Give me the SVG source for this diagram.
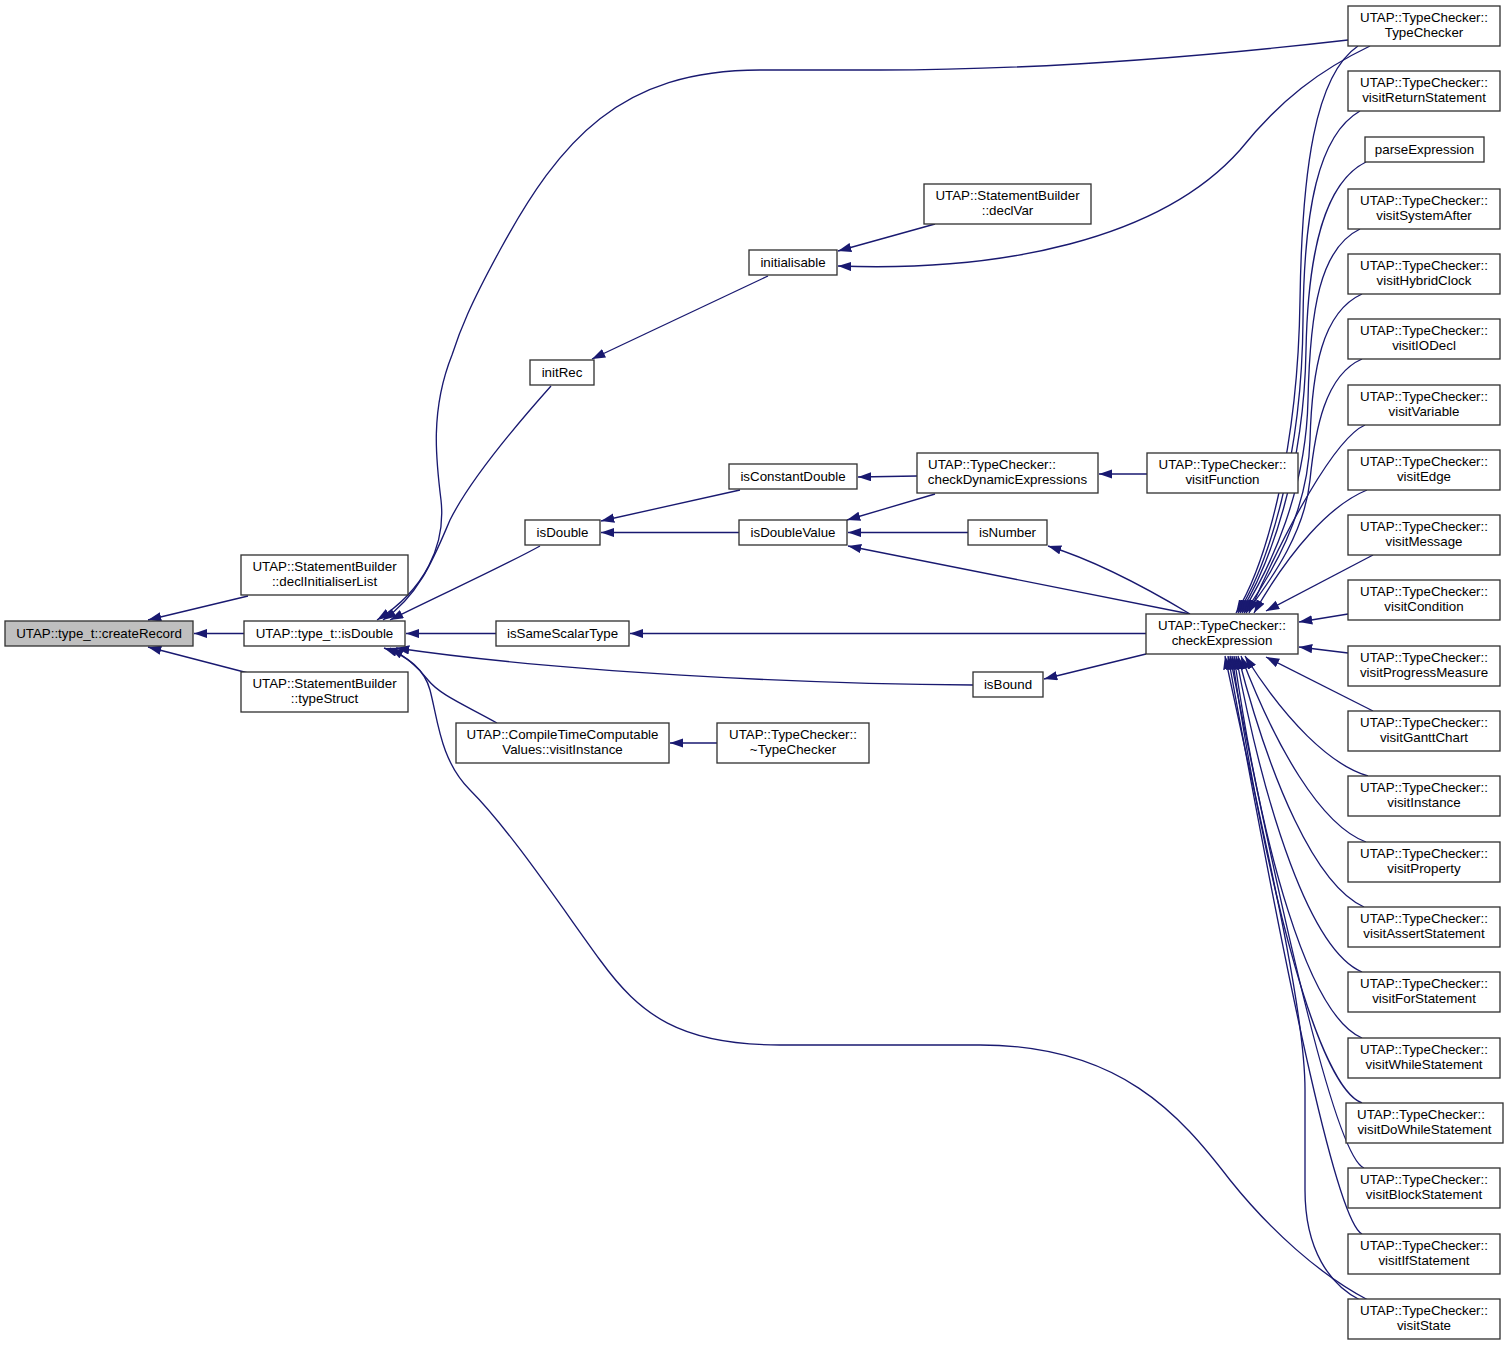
<svg xmlns="http://www.w3.org/2000/svg" width="1508" height="1345" viewBox="0 0 1508 1345">
<defs>
<marker id="ah" markerUnits="userSpaceOnUse" markerWidth="14" markerHeight="10" refX="13.3" refY="4.67" orient="auto">
<path d="M0,0 L13.3,4.67 L0,9.33 z" fill="#191970"/>
</marker>
<style>
.n rect{fill:#fff;stroke:#333;stroke-width:1.33}
.n text{font-family:"Liberation Sans",Arial,sans-serif;font-size:13.33px;fill:#000;text-anchor:middle}
#edges path{fill:none;stroke:#191970;stroke-width:1.33;marker-end:url(#ah)}
</style>
</defs>
<rect width="1508" height="1345" fill="#fff"/>
<g id="edges">
<path d="M248,596 L148,620"/>
<path d="M244,633.5 L194,633.5"/>
<path d="M248,673 L148,647"/>
<path d="M1348,40 C1200,57 1040,70 880,70 L760,70 C620,70 560,140 500,250 C470,305 460,330 452,355 C430,410 436,460 441,500 C446,545 425,590 377,620"/>
<path d="M551,386 C510,432 470,480 450,520 C435,555 420,595 383,620"/>
<path d="M540,546 C500,568 440,595 390,620"/>
<path d="M496,633.5 L406,633.5"/>
<path d="M973,685 C800,684 560,672 396,648"/>
<path d="M497,723 C465,705 440,695 428,680 C418,667 405,656 390,648"/>
<path d="M1368,1300 C1320,1275 1270,1230 1230,1180 C1180,1115 1120,1045 980,1045 L780,1045 C680,1045 640,1015 600,960 C560,905 510,830 470,790 C440,760 438,720 430,690 C424,668 405,655 384,648"/>
<path d="M768,276 L592,359"/>
<path d="M935,224 L838,251"/>
<path d="M1370,46 C1320,70 1280,100 1240,150 C1160,240 1000,272 838,266"/>
<path d="M740,490 L601,521"/>
<path d="M739,532.5 L601,532.5"/>
<path d="M917,476 L858,477"/>
<path d="M935,494 L847,520"/>
<path d="M1147,474 L1099,474"/>
<path d="M968,532.5 L848,532.5"/>
<path d="M1190,614 L848,546"/>
<path d="M1190,614 C1150,590 1100,562 1048,546"/>
<path d="M1146,633.5 L630,633.5"/>
<path d="M1146,654 L1044,679"/>
<path d="M717,743 L670,743"/>
<path d="M1358,46 C1315,75 1302,170 1300,300 C1298,450 1266,565 1236,613"/>
<path d="M1360,111 C1318,135 1304,210 1303,320 C1302,460 1268,565 1238,613"/>
<path d="M1366,162 C1325,182 1308,250 1306,350 C1304,470 1270,565 1240,613"/>
<path d="M1360,229 C1320,248 1310,310 1308,400 C1306,490 1272,565 1242,613"/>
<path d="M1362,294 C1322,312 1312,370 1310,440 C1308,510 1275,570 1244,613"/>
<path d="M1362,359 C1325,375 1315,430 1310,480 C1305,530 1275,575 1246,613"/>
<path d="M1365,425 C1335,438 1285,530 1249,613"/>
<path d="M1367,490 C1330,505 1290,550 1254,613"/>
<path d="M1373,555 L1266,611"/>
<path d="M1348,614 L1299,622"/>
<path d="M1348,653 L1299,647"/>
<path d="M1373,711 L1266,657"/>
<path d="M1368,776 C1330,765 1285,720 1245,656"/>
<path d="M1366,842 C1320,825 1275,745 1241,656"/>
<path d="M1364,907 C1315,885 1270,780 1238,656"/>
<path d="M1362,972 C1310,950 1265,810 1236,656"/>
<path d="M1362,1038 C1308,1015 1262,850 1234,656"/>
<path d="M1362,1103 C1320,1088 1268,900 1232,656"/>
<path d="M1364,1168 C1338,1158 1290,960 1230,656"/>
<path d="M1362,1234 C1338,1222 1292,1010 1228,656"/>
<path d="M1360,1300 C1330,1285 1305,1250 1305,1190 L1305,1090 C1305,1000 1255,800 1225,656"/>
</g>
<g id="n_createRecord" class="n"><rect x="5" y="621" width="188" height="25" style="fill:#bfbfbf"/><text x="99" y="638">UTAP::type_t::createRecord</text></g>
<g id="n_declInitialiserList" class="n"><rect x="241" y="555" width="167" height="40"/><text x="324.5" y="570.5">UTAP::StatementBuilder</text><text x="324.5" y="585.5">::declInitialiserList</text></g>
<g id="n_isDoubleT" class="n"><rect x="244" y="621" width="161" height="25"/><text x="324.5" y="638">UTAP::type_t::isDouble</text></g>
<g id="n_typeStruct" class="n"><rect x="241" y="672" width="167" height="40"/><text x="324.5" y="687.5">UTAP::StatementBuilder</text><text x="324.5" y="702.5">::typeStruct</text></g>
<g id="n_initRec" class="n"><rect x="530" y="360" width="64" height="25"/><text x="562" y="377">initRec</text></g>
<g id="n_initialisable" class="n"><rect x="749" y="250" width="88" height="25"/><text x="793" y="267">initialisable</text></g>
<g id="n_declVar" class="n"><rect x="924" y="184" width="167" height="40"/><text x="1007.5" y="199.5">UTAP::StatementBuilder</text><text x="1007.5" y="214.5">::declVar</text></g>
<g id="n_isConstantDouble" class="n"><rect x="729" y="464" width="128" height="25"/><text x="793" y="481">isConstantDouble</text></g>
<g id="n_checkDynamicExpressions" class="n"><rect x="917" y="453" width="181" height="40"/><text x="928" y="468.5" style="text-anchor:start">UTAP::TypeChecker::</text><text x="1007.5" y="483.5">checkDynamicExpressions</text></g>
<g id="n_visitFunction" class="n"><rect x="1147" y="453" width="151" height="40"/><text x="1222.5" y="468.5">UTAP::TypeChecker::</text><text x="1222.5" y="483.5">visitFunction</text></g>
<g id="n_isDouble" class="n"><rect x="525" y="520" width="75" height="25"/><text x="562.5" y="537">isDouble</text></g>
<g id="n_isDoubleValue" class="n"><rect x="739" y="520" width="108" height="25"/><text x="793" y="537">isDoubleValue</text></g>
<g id="n_isNumber" class="n"><rect x="968" y="520" width="79" height="25"/><text x="1007.5" y="537">isNumber</text></g>
<g id="n_isSameScalarType" class="n"><rect x="496" y="621" width="133" height="25"/><text x="562.5" y="638">isSameScalarType</text></g>
<g id="n_checkExpression" class="n"><rect x="1146" y="614" width="152" height="40"/><text x="1222" y="629.5">UTAP::TypeChecker::</text><text x="1222" y="644.5">checkExpression</text></g>
<g id="n_isBound" class="n"><rect x="973" y="672" width="70" height="25"/><text x="1008" y="689">isBound</text></g>
<g id="n_ctcVisitInstance" class="n"><rect x="456" y="723" width="213" height="40"/><text x="562.5" y="738.5">UTAP::CompileTimeComputable</text><text x="562.5" y="753.5">Values::visitInstance</text></g>
<g id="n_dtorTypeChecker" class="n"><rect x="717" y="723" width="152" height="40"/><text x="793" y="738.5">UTAP::TypeChecker::</text><text x="793" y="753.5">~TypeChecker</text></g>
<g id="n_TypeChecker" class="n"><rect x="1348" y="6" width="152" height="40"/><text x="1424" y="21.5">UTAP::TypeChecker::</text><text x="1424" y="36.5">TypeChecker</text></g>
<g id="n_visitReturnStatement" class="n"><rect x="1348" y="71" width="152" height="40"/><text x="1424" y="86.5">UTAP::TypeChecker::</text><text x="1424" y="101.5">visitReturnStatement</text></g>
<g id="n_parseExpression" class="n"><rect x="1365" y="137" width="119" height="25"/><text x="1424.5" y="154">parseExpression</text></g>
<g id="n_visitSystemAfter" class="n"><rect x="1348" y="189" width="152" height="40"/><text x="1424" y="204.5">UTAP::TypeChecker::</text><text x="1424" y="219.5">visitSystemAfter</text></g>
<g id="n_visitHybridClock" class="n"><rect x="1348" y="254" width="152" height="40"/><text x="1424" y="269.5">UTAP::TypeChecker::</text><text x="1424" y="284.5">visitHybridClock</text></g>
<g id="n_visitIODecl" class="n"><rect x="1348" y="319" width="152" height="40"/><text x="1424" y="334.5">UTAP::TypeChecker::</text><text x="1424" y="349.5">visitIODecl</text></g>
<g id="n_visitVariable" class="n"><rect x="1348" y="385" width="152" height="40"/><text x="1424" y="400.5">UTAP::TypeChecker::</text><text x="1424" y="415.5">visitVariable</text></g>
<g id="n_visitEdge" class="n"><rect x="1348" y="450" width="152" height="40"/><text x="1424" y="465.5">UTAP::TypeChecker::</text><text x="1424" y="480.5">visitEdge</text></g>
<g id="n_visitMessage" class="n"><rect x="1348" y="515" width="152" height="40"/><text x="1424" y="530.5">UTAP::TypeChecker::</text><text x="1424" y="545.5">visitMessage</text></g>
<g id="n_visitCondition" class="n"><rect x="1348" y="580" width="152" height="40"/><text x="1424" y="595.5">UTAP::TypeChecker::</text><text x="1424" y="610.5">visitCondition</text></g>
<g id="n_visitProgressMeasure" class="n"><rect x="1348" y="646" width="152" height="40"/><text x="1424" y="661.5">UTAP::TypeChecker::</text><text x="1424" y="676.5">visitProgressMeasure</text></g>
<g id="n_visitGanttChart" class="n"><rect x="1348" y="711" width="152" height="40"/><text x="1424" y="726.5">UTAP::TypeChecker::</text><text x="1424" y="741.5">visitGanttChart</text></g>
<g id="n_visitInstance" class="n"><rect x="1348" y="776" width="152" height="40"/><text x="1424" y="791.5">UTAP::TypeChecker::</text><text x="1424" y="806.5">visitInstance</text></g>
<g id="n_visitProperty" class="n"><rect x="1348" y="842" width="152" height="40"/><text x="1424" y="857.5">UTAP::TypeChecker::</text><text x="1424" y="872.5">visitProperty</text></g>
<g id="n_visitAssertStatement" class="n"><rect x="1348" y="907" width="152" height="40"/><text x="1424" y="922.5">UTAP::TypeChecker::</text><text x="1424" y="937.5">visitAssertStatement</text></g>
<g id="n_visitForStatement" class="n"><rect x="1348" y="972" width="152" height="40"/><text x="1424" y="987.5">UTAP::TypeChecker::</text><text x="1424" y="1002.5">visitForStatement</text></g>
<g id="n_visitWhileStatement" class="n"><rect x="1348" y="1038" width="152" height="40"/><text x="1424" y="1053.5">UTAP::TypeChecker::</text><text x="1424" y="1068.5">visitWhileStatement</text></g>
<g id="n_visitDoWhileStatement" class="n"><rect x="1346" y="1103" width="157" height="40"/><text x="1357" y="1118.5" style="text-anchor:start">UTAP::TypeChecker::</text><text x="1424.5" y="1133.5">visitDoWhileStatement</text></g>
<g id="n_visitBlockStatement" class="n"><rect x="1348" y="1168" width="152" height="40"/><text x="1424" y="1183.5">UTAP::TypeChecker::</text><text x="1424" y="1198.5">visitBlockStatement</text></g>
<g id="n_visitIfStatement" class="n"><rect x="1348" y="1234" width="152" height="40"/><text x="1424" y="1249.5">UTAP::TypeChecker::</text><text x="1424" y="1264.5">visitIfStatement</text></g>
<g id="n_visitState" class="n"><rect x="1348" y="1299" width="152" height="40"/><text x="1424" y="1314.5">UTAP::TypeChecker::</text><text x="1424" y="1329.5">visitState</text></g>
</svg>
